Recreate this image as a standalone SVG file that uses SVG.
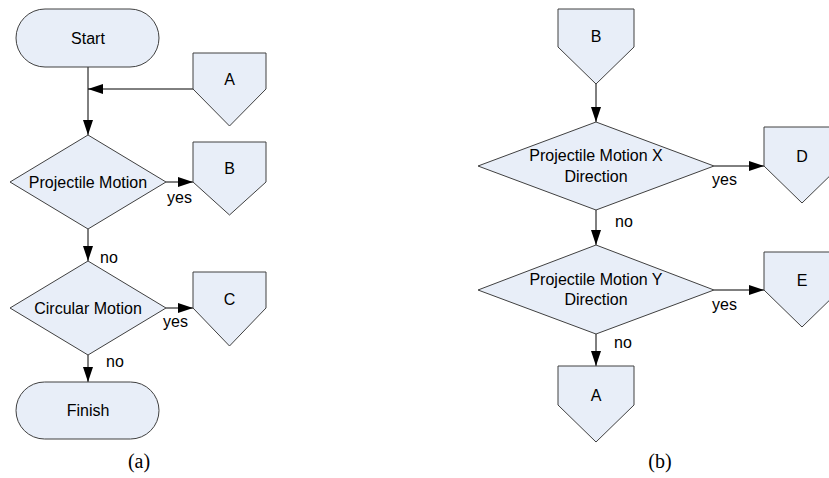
<svg xmlns="http://www.w3.org/2000/svg" width="829" height="478" viewBox="0 0 829 478">
<defs>
<marker id="arr" markerUnits="userSpaceOnUse" markerWidth="15" markerHeight="10" refX="15" refY="5" orient="auto">
<path d="M0,0 L15,5 L0,10 z" fill="#000"/>
</marker>
<style>
.shape{fill:#e8eef8;stroke:#404040;stroke-width:1}
.t{font-family:"Liberation Sans",Arial,sans-serif;font-size:16px;fill:#000;text-anchor:middle}
.l{font-family:"Liberation Sans",Arial,sans-serif;font-size:16px;fill:#000}
.cap{font-family:"Liberation Serif","Times New Roman",serif;font-size:20px;fill:#000;text-anchor:middle}
.c{stroke:#000;stroke-width:1;fill:none;marker-end:url(#arr)}
</style>
</defs>
<rect width="829" height="478" fill="#fff"/>
<g id="connectors">
<line class="c" x1="88" y1="67" x2="88" y2="135"/>
<line class="c" x1="193" y1="89" x2="88" y2="89"/>
<line class="c" x1="166" y1="182" x2="193" y2="182"/>
<line class="c" x1="88" y1="229" x2="88" y2="261"/>
<line class="c" x1="166" y1="308" x2="193" y2="308"/>
<line class="c" x1="88" y1="355" x2="88" y2="382"/>
<line class="c" x1="596" y1="84" x2="596" y2="122"/>
<line class="c" x1="714" y1="166" x2="764" y2="166"/>
<line class="c" x1="596" y1="210" x2="596" y2="245"/>
<line class="c" x1="714" y1="290" x2="764" y2="290"/>
<line class="c" x1="596" y1="334" x2="596" y2="366"/>
</g>
<g id="labels">
<text class="l" x="167" y="203">yes</text>
<text class="l" x="100" y="263">no</text>
<text class="l" x="163" y="327">yes</text>
<text class="l" x="106" y="367">no</text>
<text class="l" x="712" y="185">yes</text>
<text class="l" x="615" y="227">no</text>
<text class="l" x="712" y="310">yes</text>
<text class="l" x="614" y="348">no</text>
</g>
<g id="start">
<rect class="shape" x="16" y="9" width="143" height="58" rx="29"/>
<text class="t" x="88" y="43.5">Start</text>
</g>
<g id="conn-a-in">
<polygon class="shape" points="193,53 266,53 266,89 229.5,126 193,89"/>
<text class="t" x="229.5" y="85">A</text>
</g>
<g id="projectile">
<polygon class="shape" points="88,135 166,182 88,229 10,182"/>
<text class="t" x="88" y="187.5">Projectile Motion</text>
</g>
<g id="conn-b-out">
<polygon class="shape" points="193,142 266,142 266,182 229.5,215 193,182"/>
<text class="t" x="229.5" y="174">B</text>
</g>
<g id="circular">
<polygon class="shape" points="88,261 166,308 88,355 10,308"/>
<text class="t" x="88" y="313.5">Circular Motion</text>
</g>
<g id="conn-c-out">
<polygon class="shape" points="193,272 266,272 266,308 229.5,346 193,308"/>
<text class="t" x="229.5" y="305">C</text>
</g>
<g id="finish">
<rect class="shape" x="16" y="382" width="143" height="57" rx="28.5"/>
<text class="t" x="88" y="416">Finish</text>
</g>
<text class="cap" x="139" y="468">(a)</text>
<g id="conn-b-in">
<polygon class="shape" points="558,9 634,9 634,47 596,84 558,47"/>
<text class="t" x="596" y="42">B</text>
</g>
<g id="proj-x">
<polygon class="shape" points="596,122 714,166 596,210 478,166"/>
<text class="t" x="596" y="161">Projectile Motion X</text>
<text class="t" x="596" y="181.5">Direction</text>
</g>
<g id="conn-d-out">
<polygon class="shape" points="764,127 840,127 840,166 802,203 764,166"/>
<text class="t" x="802" y="162">D</text>
</g>
<g id="proj-y">
<polygon class="shape" points="596,245 714,290 596,334 478,290"/>
<text class="t" x="596" y="285">Projectile Motion Y</text>
<text class="t" x="596" y="305">Direction</text>
</g>
<g id="conn-e-out">
<polygon class="shape" points="764,252 840,252 840,290 802,327 764,290"/>
<text class="t" x="802" y="286">E</text>
</g>
<g id="conn-a-out">
<polygon class="shape" points="558,366 634,366 634,405 596,442 558,405"/>
<text class="t" x="596" y="401">A</text>
</g>
<text class="cap" x="660" y="468">(b)</text>
</svg>
